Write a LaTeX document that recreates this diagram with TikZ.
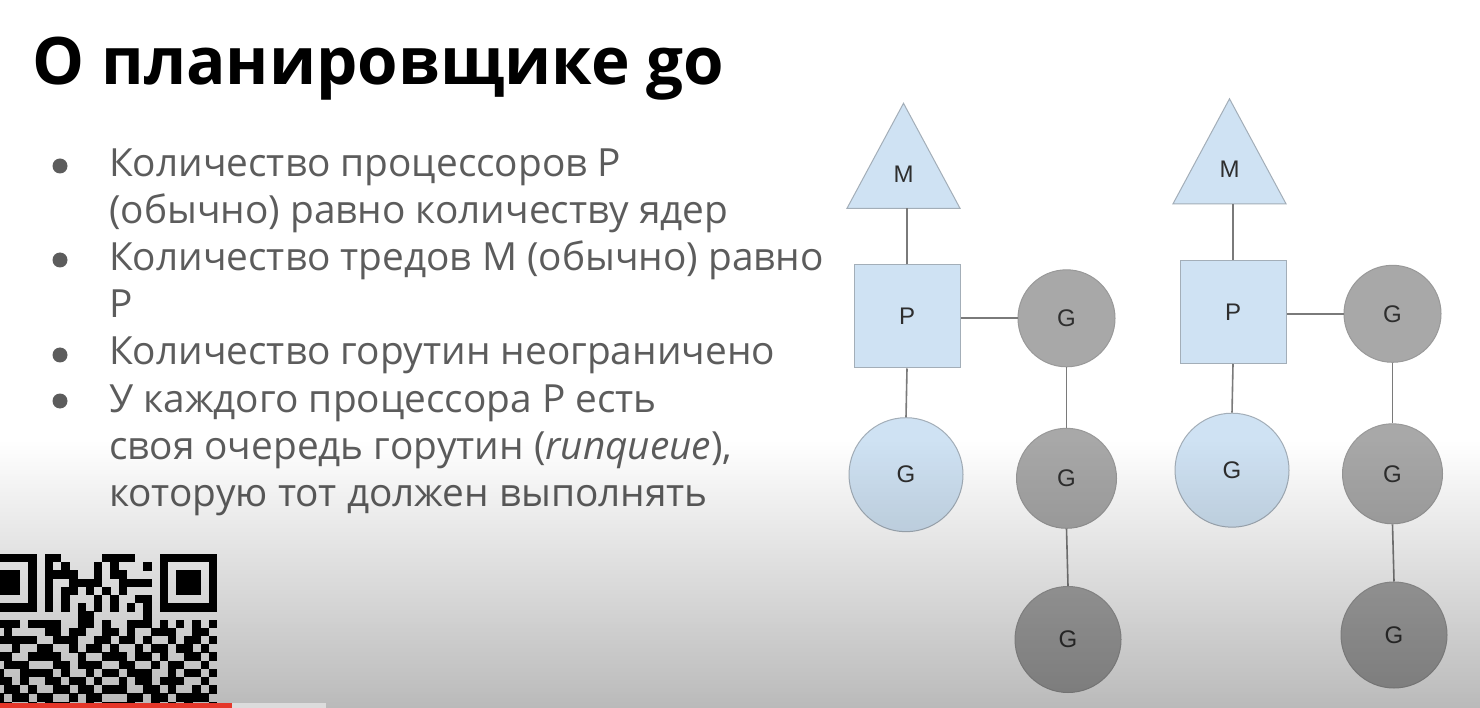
\documentclass[tikz,border=0pt]{standalone}
\usepackage{fontspec}
\setmainfont{Open Sans}
\newfontfamily\labelfont{Liberation Sans}
\definecolor{bodytext}{HTML}{5C5C5C}
\definecolor{paleblue}{HTML}{CFE2F3}
\definecolor{paleedge}{HTML}{A3AEB8}
\definecolor{gfill}{HTML}{A8A8A8}
\definecolor{gedge}{HTML}{999999}
\definecolor{wire}{HTML}{7A7A7A}
\definecolor{labeltext}{HTML}{2E2E2E}
\definecolor{barred}{HTML}{E5372A}
\definecolor{barlight}{HTML}{DCDCDC}

% one row of the QR code: #1 = row number, #2 = string of 0/1 modules
\makeatletter
\def\qrrow#1#2{\def\qr@r{#1}\def\qr@c{0}\qr@scan#2\relax}
\def\qr@scan#1{%
  \ifx\relax#1\else
    \if1#1\fill[black] ({-20.8+8.2*\qr@c},{554+8.2*\qr@r}) rectangle ++(8.3,8.3);\fi
    \pgfmathtruncatemacro\qr@c{\qr@c+1}%
    \expandafter\qr@scan
  \fi}
\makeatother

\begin{document}
\begin{tikzpicture}[x=1pt,y=-1pt,
  title/.style={anchor=base west, inner sep=0pt, font=\fontsize{65.5}{65}\selectfont\bfseries, text=black},
  bullettext/.style={anchor=base west, inner sep=0pt, font=\fontsize{38.8}{47}\selectfont, text=bodytext},
  bulletdot/.style={circle, fill=bodytext, minimum size=15pt, inner sep=0pt},
  lbl/.style={font=\labelfont\fontsize{24}{24}\selectfont, text=labeltext, inner sep=0pt},
  tri/.style={fill=paleblue, draw=paleedge, line width=1pt},
  pbox/.style={lbl, rectangle, fill=paleblue, draw=paleedge, line width=1pt, minimum width=106pt, minimum height=103pt},
  gblue/.style={lbl, circle, fill=paleblue, draw=paleedge, line width=1pt, minimum size=#1},
  ggray/.style={lbl, circle, fill=gfill, draw=gedge, line width=1pt, minimum size=#1},
  conn/.style={draw=wire, line width=1.6pt}
]
\useasboundingbox (0,0) rectangle (1480,708);
\fill[white] (0,0) rectangle (1480,708);

% heading
\node[title] (head) at (32,85) {О планировщике go};

% bullet list
\node[bulletdot] (d1) at (60,166) {};
\node[bulletdot] (d2) at (60,260) {};
\node[bulletdot] (d3) at (60,355) {};
\node[bulletdot] (d4) at (60,401) {};
\node[bullettext] (t1) at (109,177) {Количество процессоров P};
\node[bullettext] (t2) at (109,224) {(обычно) равно количеству ядер};
\node[bullettext] (t3) at (109,271) {Количество тредов M (обычно) равно};
\node[bullettext] (t4) at (109,318) {P};
\node[bullettext] (t5) at (109,365) {Количество горутин неограничено};
\node[bullettext] (t6) at (109,412) {У каждого процессора P есть};
\node[bullettext] (t7) at (109,459) {своя очередь горутин (\textit{runqueue}),};
\node[bullettext] (t8) at (109,506) {которую тот должен выполнять};

% two M-P-G groups
\foreach \k/\dx/\dy in {a/0/0, b/326/-4.5} {
  \begin{scope}[shift={(\dx,\dy)}]
    \draw[tri] (903.5,103.3) -- (960,208.3) -- (847,208.3) -- cycle;
    \node[lbl] (M\k) at (903.5,174) {M};
    \coordinate (Mb\k) at (907,208.3);
    \node[pbox] (P\k) at (907,316.5) {P};
    \node[ggray=97pt] (Gr\k) at (1066.5,318.3) {G};
    \node[gblue=114pt] (Gb\k) at (906,474.7) {G};
    \node[ggray=100pt] (Gs\k) at (1066.5,478.3) {G};
    \node[ggray=106pt] (Gt\k) at (1068,639.5) {G};
    \draw[conn] (P\k.north) -- (Mb\k);
    \draw[conn] (Gr\k.west) -- (Gr\k.west -| P\k.east);
    \draw[conn] (P\k.south) -- (Gb\k.north);
    \draw[conn] (Gr\k.south) -- (Gs\k.north);
    \draw[conn] (Gs\k.south) -- (Gt\k.north);
  \end{scope}
}

% QR code in the lower left corner
\begin{scope}
  \clip (0,0) rectangle (1480,703);
  \qrrow{0}{11111110110000011110001111111}
  \qrrow{1}{10000010101000101000101000001}
  \qrrow{2}{10111010111100101100001011101}
  \qrrow{3}{10111010100111100111101011101}
  \qrrow{4}{10111010101101010100001011101}
  \qrrow{5}{10000010101000101001101000001}
  \qrrow{6}{11111110101010101010101111111}
  \qrrow{7}{00000000000011000000100000000}
  \qrrow{8}{00111011110011010011101010101}
  \qrrow{9}{01010000110110011010011100110}
  \qrrow{10}{00111110011100110110100101101}
  \qrrow{11}{01001001100101101001011011010}
  \qrrow{12}{00110011110010011101101001101}
  \qrrow{13}{01011100011011100110010110010}
  \qrrow{14}{00100111101001011011100101101}
  \qrrow{15}{01110100110110100101101110010}
  \qrrow{16}{00011010011011011100110100101}
  \qrrow{17}{01101101100101100011011011110}
  \qrrow{18}{00110010111001011110010101001}
\end{scope}

% darkening towards the bottom edge
\foreach \i [evaluate=\i as \op using {0.27*(\i+0.5)/134}] in {0,...,133} {
  \fill[black, fill opacity=\op] (0,{440+2*\i}) rectangle (1480,{442+2*\i});
}

% progress bar
\fill[barred] (0,703) rectangle (232,708);
\fill[barlight] (232,703) rectangle (326,708);
\end{tikzpicture}
\end{document}
